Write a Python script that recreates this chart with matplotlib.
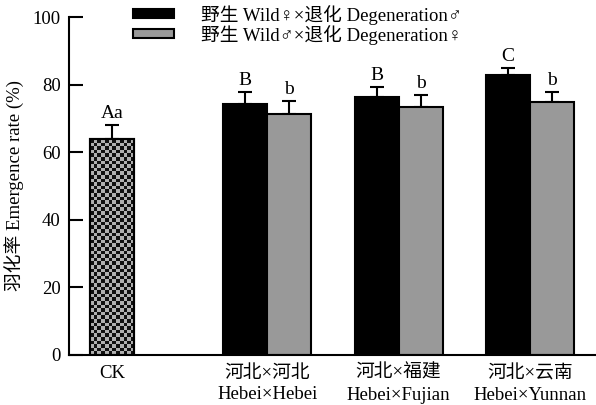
import numpy as np
import matplotlib
matplotlib.use("Agg")
import matplotlib.pyplot as plt
from matplotlib.patches import Patch

plt.rcParams['font.family'] = ['Liberation Serif', 'DejaVu Serif', 'Noto Sans CJK SC']

# data
ck_value = 63.9
ck_err = 4.1
groups = ["河北×河北\nHebei×Hebei", "河北×福建\nHebei×Fujian", "河北×云南\nHebei×Yunnan"]
wild_female = [74.3, 76.3, 82.8]
wild_female_err = [3.5, 3.0, 2.1]
wild_male = [71.3, 73.4, 74.9]
wild_male_err = [3.8, 3.5, 2.9]
ck_letter = "Aa"
letters_female = ["B", "B", "C"]
letters_male = ["b", "b", "b"]
legend_labels = ["野生 Wild♀×退化 Degeneration♂", "野生 Wild♂×退化 Degeneration♀"]

fig = plt.figure(figsize=(5.96, 4.05), dpi=100)
ax = fig.add_axes([0.1158, 0.1235, 0.884, 0.8345])

w = 0.335
ck_x = 0.0
gx = np.array([1.18, 2.18, 3.18])

# CK bar with checker fill
ck_bar = ax.bar([ck_x], [ck_value], w, color='#999999', edgecolor='black', lw=1.5, zorder=2)[0]
ax.errorbar([ck_x], [ck_value], yerr=[[0], [ck_err]], fmt='none', ecolor='black',
            elinewidth=1.5, capsize=5, capthick=1.5, zorder=1)
nx, ny = 12, 60
checker = (np.indices((ny, nx)).sum(axis=0) % 2).astype(float)
x0 = ck_bar.get_x()
im = ax.imshow(checker, cmap='gray', vmin=-0.1, vmax=1.5, extent=(x0, x0 + w, 0, ck_value),
               aspect='auto', interpolation='nearest', zorder=2.5)
im.set_clip_path(ck_bar)
ax.bar([ck_x], [ck_value], w, color='none', edgecolor='black', lw=1.5, zorder=3)
ax.text(ck_x, ck_value + ck_err + 1.0, ck_letter, ha='center', va='bottom', fontsize=14)

ax.bar(gx - w / 2, wild_female, w, color='black', edgecolor='black', lw=1.5, zorder=2)
ax.bar(gx + w / 2, wild_male, w, color='#999999', edgecolor='black', lw=1.5, zorder=2)
ax.errorbar(gx - w / 2, wild_female, yerr=[np.zeros(3), wild_female_err], fmt='none',
            ecolor='black', elinewidth=1.5, capsize=5, capthick=1.5, zorder=1)
ax.errorbar(gx + w / 2, wild_male, yerr=[np.zeros(3), wild_male_err], fmt='none',
            ecolor='black', elinewidth=1.5, capsize=5, capthick=1.5, zorder=1)
for i in range(3):
    ax.text(gx[i] - w / 2, wild_female[i] + wild_female_err[i] + 1.0, letters_female[i],
            ha='center', va='bottom', fontsize=14)
    ax.text(gx[i] + w / 2, wild_male[i] + wild_male_err[i] + 1.0, letters_male[i],
            ha='center', va='bottom', fontsize=14)

ax.set_xlim(-0.327, 3.68)
ax.set_ylim(0, 100)
ax.set_yticks([0, 20, 40, 60, 80, 100])
ax.set_xticks([ck_x] + list(gx))
ax.set_xticklabels(["CK"] + groups, fontsize=13.5, linespacing=1.35)
ax.tick_params(axis='x', length=0, pad=7)
ax.tick_params(axis='y', direction='in', length=10, width=1.5, labelsize=13.5, pad=6)
ax.spines['top'].set_visible(False)
ax.spines['right'].set_visible(False)
ax.spines['left'].set_linewidth(1.5)
ax.spines['bottom'].set_linewidth(1.5)
ax.set_ylabel("羽化率 Emergence rate (%)", fontsize=13.5, labelpad=6)

handles = [Patch(facecolor='black', edgecolor='black', lw=1.5),
           Patch(facecolor='#999999', edgecolor='black', lw=1.5)]
fig.legend(handles, legend_labels, loc='upper left', bbox_to_anchor=(0.195, 1.03),
           frameon=False, fontsize=13.5, handlelength=2.2, handleheight=0.35,
           handletextpad=1.4, labelspacing=0.0)

fig.savefig("out.png", dpi=100)
